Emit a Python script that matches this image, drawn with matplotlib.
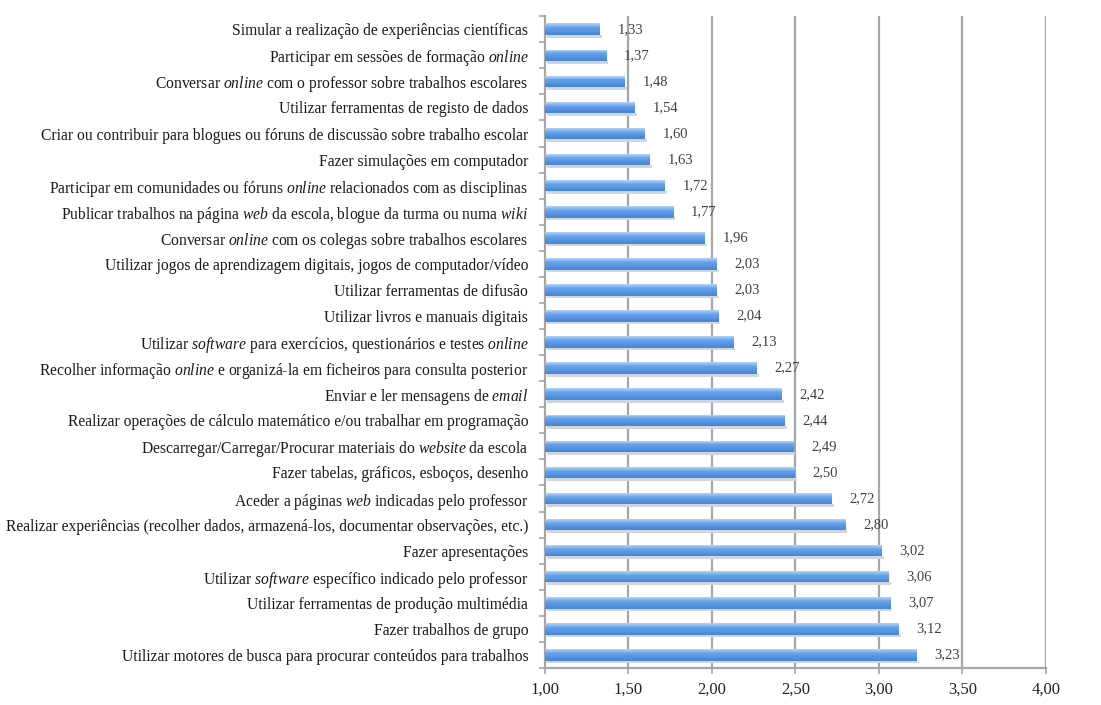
import matplotlib
matplotlib.use("Agg")
import matplotlib.pyplot as plt
import numpy as np

# Activities, top to bottom as shown in the chart ($...$ = italic words)
labels = [
    "Simular a realização de experiências científicas",
    r"Participar em sessões de formação $\mathit{online}$",
    r"Conversar $\mathit{online}$ com o professor sobre trabalhos escolares",
    "Utilizar ferramentas de registo de dados",
    "Criar ou contribuir para blogues ou fóruns de discussão sobre trabalho escolar",
    "Fazer simulações em computador",
    r"Participar em comunidades ou fóruns $\mathit{online}$ relacionados com as disciplinas",
    r"Publicar trabalhos na página $\mathit{web}$ da escola, blogue da turma ou numa $\mathit{wiki}$",
    r"Conversar $\mathit{online}$ com os colegas sobre trabalhos escolares",
    "Utilizar jogos de aprendizagem digitais, jogos de computador/vídeo",
    "Utilizar ferramentas de difusão",
    "Utilizar livros e manuais digitais",
    r"Utilizar $\mathit{software}$ para exercícios, questionários e testes $\mathit{online}$",
    r"Recolher informação $\mathit{online}$ e organizá-la em ficheiros para consulta posterior",
    r"Enviar e ler mensagens de $\mathit{email}$",
    "Realizar operações de cálculo matemático e/ou trabalhar em programação",
    r"Descarregar/Carregar/Procurar materiais do $\mathit{website}$ da escola",
    "Fazer tabelas, gráficos, esboços, desenho",
    r"Aceder a páginas $\mathit{web}$ indicadas pelo professor",
    "Realizar experiências (recolher dados, armazená-los, documentar observações, etc.)",
    "Fazer apresentações",
    r"Utilizar $\mathit{software}$ específico indicado pelo professor",
    "Utilizar ferramentas de produção multimédia",
    "Fazer trabalhos de grupo",
    "Utilizar motores de busca para procurar conteúdos para trabalhos",
]
values = [1.33, 1.37, 1.48, 1.54, 1.60, 1.63, 1.72, 1.77, 1.96, 2.03, 2.03, 2.04, 2.13,
          2.27, 2.42, 2.44, 2.49, 2.50, 2.72, 2.80, 3.02, 3.06, 3.07, 3.12, 3.23]
x_ticks = [1.0, 1.5, 2.0, 2.5, 3.0, 3.5, 4.0]

plt.rcParams["font.family"] = ["Liberation Serif", "DejaVu Serif"]
plt.rcParams["mathtext.fontset"] = "custom"
plt.rcParams["mathtext.rm"] = "Liberation Serif"
plt.rcParams["mathtext.it"] = "Liberation Serif:italic"

BASE = 1.0
GRID = "#a6a6a6"
BAR_H = 0.44

fig = plt.figure(figsize=(11.01, 7.05), dpi=100)
ax = fig.add_axes([0.495, 0.0525, 0.455, 0.9245])

n = len(values)
y = np.arange(n)
widths = np.array(values) - BASE

# cylinder-ish bars: stack of thin slices, light on top, mid blue body, darker edge
top = np.array([0xaa, 0xce, 0xf5]) / 255
mid = np.array([0x66, 0xa2, 0xe8]) / 255
bottom = np.array([0x48, 0x86, 0xd6]) / 255
n_slices = 12
for k in range(n_slices):
    t = k / (n_slices - 1)
    if t < 0.35:
        col = top + (mid - top) * (t / 0.35)
    else:
        col = mid + (bottom - mid) * ((t - 0.35) / 0.65)
    off = -BAR_H / 2 + (k + 0.5) * BAR_H / n_slices
    ax.barh(y + off, widths, left=BASE, height=BAR_H / n_slices * 1.05,
            color=col, linewidth=0, zorder=3)
# soft shadow under the bar
ax.barh(y + BAR_H / 2 + 0.05, widths, left=BASE + 0.01, height=0.10,
        color="#cfd6de", linewidth=0, zorder=2)

for yi, v in zip(y, values):
    ax.annotate(f"{v:.2f}".replace(".", ","), xy=(v, yi), xytext=(12.5, 0),
                textcoords="offset points", ha="left", va="center",
                fontsize=10.5, color="#404040", zorder=6)

ax.set_xlim(1.0, 4.0)
ax.set_ylim(n - 0.5, -0.5)
ax.set_xticks(x_ticks)
ax.set_xticklabels([f"{t:.2f}".replace(".", ",") for t in x_ticks],
                   fontsize=12, color="#222222")
for t in x_ticks[1:]:
    ax.axvline(t, color=GRID, linewidth=1.6, zorder=1)

# category boundary ticks on the left spine, labels at bar centres
ax.set_yticks(np.arange(n + 1) - 0.5)
ax.set_yticklabels([])
ax.set_yticks(y, minor=True)
ax.set_yticklabels(labels, minor=True, fontsize=11.25, color="#1a1a1a")
ax.tick_params(axis="y", which="major", length=4, color=GRID, width=1.2)
ax.tick_params(axis="y", which="minor", length=0, pad=12)
ax.tick_params(axis="x", length=4, color=GRID, width=1.2, pad=6)

for side in ["top", "right"]:
    ax.spines[side].set_visible(False)
for side in ["left", "bottom"]:
    ax.spines[side].set_color(GRID)
    ax.spines[side].set_linewidth(1.6)

fig.savefig("out.png", dpi=100)
